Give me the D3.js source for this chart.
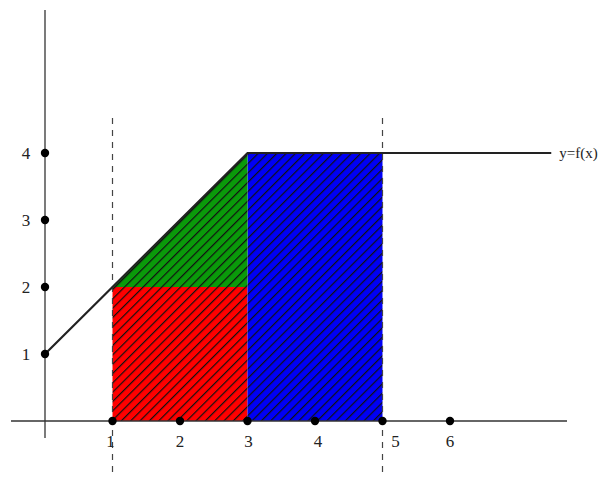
<!DOCTYPE html>
<html>
<head>
<meta charset="utf-8">
<script src="https://cdn.jsdelivr.net/npm/d3@7"></script>
<style>
  body { margin: 0; background: #fff; }
  text { font-family: "Liberation Serif", "DejaVu Serif", serif; font-size: 17px; fill: #222; }
</style>
</head>
<body>
<script>
// Data
const fx = [0, 1, 3, 7.5];
const fy = [1, 2, 4, 4];
const xTicks = [1, 2, 3, 4, 5, 6];
const yTicks = [1, 2, 3, 4];
const dashedAt = [1, 5];
const redRect = [1, 3, 0, 2];     // x0, x1, y0, y1
const blueRect = [3, 5, 0, 4];
const greenTri = [[1, 2], [3, 2], [3, 4]];

const width = 612, height = 477;

const svg = d3.select("body").append("svg")
    .attr("width", width)
    .attr("height", height);

// Scales
const x = d3.scaleLinear().domain([0, 6]).range([45, 450]);
const y = d3.scaleLinear().domain([0, 4]).range([421, 153]);

// Hatch patterns
const defs = svg.append("defs");
function hatch(id, color) {
    const p = defs.append("pattern")
        .attr("id", id)
        .attr("patternUnits", "userSpaceOnUse")
        .attr("width", 6.6)
        .attr("height", 6.6)
        .attr("patternTransform", "rotate(45)");
    p.append("rect").attr("width", 6.6).attr("height", 6.6).attr("fill", color);
    p.append("line")
        .attr("x1", 0).attr("y1", 0).attr("x2", 0).attr("y2", 6.6)
        .attr("stroke", "#111").attr("stroke-width", 2.4);
}
hatch("hRed", "#ff0000");
hatch("hGreen", "#0a9a0a");
hatch("hBlue", "#0000f5");

// Regions
function rect(r, fill) {
    svg.append("rect")
        .attr("x", x(r[0]))
        .attr("y", y(r[3]))
        .attr("width", x(r[1]) - x(r[0]))
        .attr("height", y(r[2]) - y(r[3]))
        .attr("fill", fill);
}
rect(redRect, "url(#hRed)");
rect(blueRect, "url(#hBlue)");
svg.append("path")
    .attr("d", d3.line().x(d => x(d[0])).y(d => y(d[1]))(greenTri) + "Z")
    .attr("fill", "url(#hGreen)");

// Axes
svg.append("line")
    .attr("x1", 11).attr("x2", 567)
    .attr("y1", y(0)).attr("y2", y(0))
    .attr("stroke", "#333").attr("stroke-width", 1.3);
svg.append("line")
    .attr("x1", x(0)).attr("x2", x(0))
    .attr("y1", 10).attr("y2", 438)
    .attr("stroke", "#333").attr("stroke-width", 1.3);

// Dashed verticals
svg.selectAll(".dash")
    .data(dashedAt)
    .enter()
    .append("line")
    .attr("x1", d => x(d)).attr("x2", d => x(d))
    .attr("y1", 118).attr("y2", 475)
    .attr("stroke", "#444")
    .attr("stroke-width", 1.2)
    .attr("stroke-dasharray", "6,6");

// f(x)
svg.append("path")
    .datum(fx.map((v, i) => [v, fy[i]]))
    .attr("d", d3.line().x(d => x(d[0])).y(d => y(d[1])))
    .attr("fill", "none")
    .attr("stroke", "#222")
    .attr("stroke-width", 2.2);

svg.append("text")
    .attr("x", x(7.5) + 8)
    .attr("y", y(4) + 5)
    .style("font-size", "15px")
    .text("y=f(x)");

// Dots
svg.selectAll(".xdot")
    .data(xTicks)
    .enter()
    .append("circle")
    .attr("cx", d => x(d)).attr("cy", y(0)).attr("r", 4.2).attr("fill", "#000");
svg.selectAll(".ydot")
    .data(yTicks)
    .enter()
    .append("circle")
    .attr("cx", x(0)).attr("cy", d => y(d)).attr("r", 4.2).attr("fill", "#000");

// Labels
const xOffset = {1: -2, 2: 0, 3: 1, 4: 3, 5: 13, 6: 0};
svg.selectAll(".xlab")
    .data(xTicks)
    .enter()
    .append("text")
    .attr("x", d => x(d) + xOffset[d])
    .attr("y", 447)
    .attr("text-anchor", "middle")
    .text(d => d);
svg.selectAll(".ylab")
    .data(yTicks)
    .enter()
    .append("text")
    .attr("x", 26)
    .attr("y", d => y(d) + 6)
    .attr("text-anchor", "middle")
    .text(d => d);
</script>
</body>
</html>
